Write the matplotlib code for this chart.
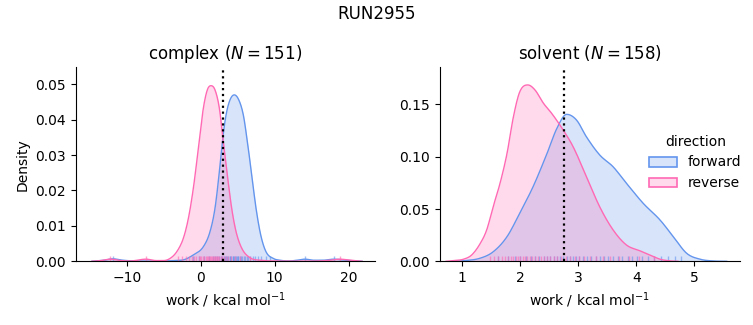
import numpy as np
import matplotlib
matplotlib.use("Agg")
import matplotlib.pyplot as plt
from matplotlib.patches import Patch
from matplotlib.colors import to_rgba

# ---------------- data ----------------
suptitle = "RUN2955"
panels = ["complex", "solvent"]
panel_n = [151, 158]
directions = ["forward", "reverse"]
colors = {"forward": "#6495ED", "reverse": "#FF69B4"}
xlabel = "work / kcal mol$^{-1}$"
ylabel = "Density"
vline_x = [2.97, 2.75]

# density curves (x, density)
complex_forward_x = [-14.7, -13.0, -11.9, -10.5, -9.0, -6.0, -3.5, -2.35, -1.0, 0.35,
                     1.26, 1.93, 2.47, 2.92, 3.42, 3.96, 4.54, 5.14, 5.76, 6.30,
                     6.89, 7.47, 8.11, 8.82, 9.81, 10.7, 12.0, 13.0, 14.1, 15.3,
                     16.5, 18.0, 19.5, 21.0, 21.8]
complex_forward_y = [0.0, 0.0003, 0.0007, 0.0003, 0.0001, 0.00005, 0.0002, 0.0004, 0.0018, 0.0041,
                     0.0084, 0.0150, 0.0244, 0.0338, 0.0413, 0.0456, 0.0470, 0.0456, 0.0413, 0.0338,
                     0.0244, 0.0150, 0.0074, 0.0027, 0.0008, 0.0003, 0.0001, 0.0003, 0.0006, 0.0003,
                     0.0003, 0.0006, 0.0003, 0.0001, 0.0]
complex_reverse_x = [-14.7, -13.5, -12.2, -10.8, -9.5, -7.4, -6.0, -5.05, -4.15, -3.24,
                     -2.35, -1.67, -1.0, -0.32, 0.35, 0.89, 1.39, 1.93, 2.52, 3.05,
                     3.59, 4.18, 4.77, 5.54, 6.66, 8.0, 10.0, 13.0, 16.0, 17.5,
                     18.8, 20.2, 21.8]
complex_reverse_y = [0.0, 0.0002, 0.0006, 0.0002, 0.0001, 0.0006, 0.0002, 0.0002, 0.0008, 0.0027,
                     0.0065, 0.0121, 0.0206, 0.0319, 0.0432, 0.0484, 0.0496, 0.0484, 0.0432, 0.0338,
                     0.0244, 0.0150, 0.0084, 0.0037, 0.0010, 0.0003, 0.0001, 0.00005, 0.0001, 0.0003,
                     0.0006, 0.0003, 0.0]

solvent_forward_x = [0.85, 1.02, 1.31, 1.53, 1.77, 1.99, 2.22, 2.46, 2.63, 2.80,
                     2.97, 3.14, 3.37, 3.60, 3.83, 4.12, 4.41, 4.64, 4.87, 5.10,
                     5.33, 5.56]
solvent_forward_y = [0.0, 0.0005, 0.003, 0.009, 0.0235, 0.046, 0.0713, 0.103, 0.127, 0.1405,
                     0.135, 0.119, 0.1016, 0.0904, 0.0746, 0.0554, 0.0395, 0.0235, 0.0076, 0.002,
                     0.0003, 0.0]
solvent_reverse_x = [0.72, 0.88, 1.02, 1.16, 1.31, 1.42, 1.53, 1.65, 1.77, 1.88,
                     1.99, 2.13, 2.25, 2.40, 2.54, 2.74, 2.91, 3.14, 3.37, 3.60,
                     3.83, 4.06, 4.24, 4.41, 4.58, 4.72]
solvent_reverse_y = [0.0, 0.0008, 0.002, 0.006, 0.0172, 0.030, 0.052, 0.0746, 0.103, 0.138,
                     0.162, 0.1686, 0.164, 0.151, 0.1415, 0.1255, 0.1096, 0.0809, 0.052, 0.030,
                     0.0156, 0.0101, 0.006, 0.002, 0.0004, 0.0]

# rug (individual work values)
complex_forward_rug = [-11.9, -1.0, -0.3, 0.5, 1.1, 1.6, 1.9, 2.2, 2.5, 2.7, 2.9, 3.1, 3.3,
                       3.4, 3.6, 3.7, 3.9, 4.0, 4.1, 4.3, 4.4, 4.5, 4.6, 4.7, 4.9, 5.0,
                       5.1, 5.3, 5.4, 5.6, 5.8, 6.0, 6.2, 6.4, 6.7, 7.0, 7.3, 7.7, 8.2,
                       8.8, 9.4, 14.1, 18.0]
complex_reverse_rug = [-12.2, -7.4, -3.1, -2.5, -2.0, -1.6, -1.2, -0.9, -0.6, -0.3, -0.1,
                       0.1, 0.3, 0.5, 0.7, 0.8, 1.0, 1.1, 1.3, 1.4, 1.5, 1.6, 1.8, 1.9,
                       2.0, 2.2, 2.3, 2.5, 2.7, 2.9, 3.1, 3.4, 3.7, 4.1, 4.6, 5.3, 6.7, 18.8]
solvent_forward_rug = [1.62, 1.78, 1.9, 2.0, 2.1, 2.18, 2.25, 2.32, 2.4, 2.46, 2.52, 2.58,
                       2.63, 2.68, 2.74, 2.8, 2.85, 2.9, 2.96, 3.02, 3.08, 3.15, 3.22, 3.3,
                       3.38, 3.45, 3.52, 3.6, 3.68, 3.76, 3.85, 3.93, 4.02, 4.1, 4.2, 4.3,
                       4.42, 4.55, 4.66, 4.77]
solvent_reverse_rug = [1.47, 1.55, 1.62, 1.68, 1.74, 1.79, 1.84, 1.88, 1.92, 1.96, 2.0, 2.04,
                       2.08, 2.12, 2.16, 2.2, 2.25, 2.3, 2.35, 2.4, 2.46, 2.52, 2.58, 2.64,
                       2.7, 2.78, 2.86, 2.94, 3.02, 3.1, 3.2, 3.3, 3.42, 3.55, 3.7, 3.88,
                       4.05, 4.3]

curves = {
    ("complex", "forward"): (complex_forward_x, complex_forward_y, complex_forward_rug),
    ("complex", "reverse"): (complex_reverse_x, complex_reverse_y, complex_reverse_rug),
    ("solvent", "forward"): (solvent_forward_x, solvent_forward_y, solvent_forward_rug),
    ("solvent", "reverse"): (solvent_reverse_x, solvent_reverse_y, solvent_reverse_rug),
}


def smooth(x, y, n=12):
    x = np.asarray(x, float)
    y = np.asarray(y, float)
    h = np.diff(x)
    d = np.diff(y) / h
    m = np.zeros_like(y)
    m[1:-1] = np.where(d[:-1] * d[1:] > 0, (d[:-1] + d[1:]) / 2, 0.0)
    m[0], m[-1] = d[0], d[-1]
    for i in range(len(d)):
        if d[i] == 0:
            m[i] = m[i + 1] = 0
        else:
            a, b = m[i] / d[i], m[i + 1] / d[i]
            s = a * a + b * b
            if s > 9:
                t = 3 / np.sqrt(s)
                m[i], m[i + 1] = t * a * d[i], t * b * d[i]
    xs, ys = [], []
    for i in range(len(h)):
        t = np.linspace(0, 1, n, endpoint=False)
        h00 = 2 * t**3 - 3 * t**2 + 1
        h10 = t**3 - 2 * t**2 + t
        h01 = -2 * t**3 + 3 * t**2
        h11 = t**3 - t**2
        xs.append(x[i] + t * h[i])
        ys.append(h00 * y[i] + h10 * h[i] * m[i] + h01 * y[i + 1] + h11 * h[i] * m[i + 1])
    xs.append([x[-1]])
    ys.append([y[-1]])
    return np.concatenate(xs), np.clip(np.concatenate(ys), 0, None)


fig = plt.figure(figsize=(7.53, 3.25), dpi=100)
axes_rects = [[0.1005, 0.196, 0.3975, 0.597], [0.584, 0.196, 0.3988, 0.597]]
xlims = [(-16.9, 23.55), (0.61, 5.79)]
ylims = [(0, 0.0548), (0, 0.1855)]
xticks = [[-10, 0, 10, 20], [1, 2, 3, 4, 5]]
yticks = [[0, 0.01, 0.02, 0.03, 0.04, 0.05], [0, 0.05, 0.10, 0.15]]

for i, panel in enumerate(panels):
    ax = fig.add_axes(axes_rects[i])
    for d in directions:
        cx, cy, rug = curves[(panel, d)]
        sx, sy = smooth(cx, cy)
        c = colors[d]
        ax.fill_between(sx, 0, sy, color=c, alpha=0.25, lw=0)
        ax.plot(sx, sy, color=c, lw=1.0)
        ax.vlines(rug, 0, 0.025, transform=ax.get_xaxis_transform(),
                  color=c, lw=1.0, alpha=0.6)
    ax.axvline(vline_x[i], color="black", ls=":", lw=1.6)
    ax.set_xlim(*xlims[i])
    ax.set_ylim(*ylims[i])
    ax.set_xticks(xticks[i])
    ax.set_yticks(yticks[i])
    ax.set_yticklabels([f"{v:.2f}" for v in yticks[i]])
    ax.set_xlabel(xlabel, fontsize=10)
    if i == 0:
        ax.set_ylabel(ylabel, fontsize=10)
    ax.set_title(f"{panel} ($N = {panel_n[i]}$)", fontsize=12)
    ax.spines["top"].set_visible(False)
    ax.spines["right"].set_visible(False)
    ax.tick_params(labelsize=10)

fig.suptitle(suptitle, fontsize=12, y=0.985)

handles = [Patch(facecolor=to_rgba(colors[d], 0.25), edgecolor=colors[d], lw=1.2)
           for d in directions]
fig.legend(handles, directions, title="direction", loc="center left",
           bbox_to_anchor=(0.8455, 0.5), frameon=False, fontsize=10, title_fontsize=10)

fig.savefig("out.png", dpi=100)
